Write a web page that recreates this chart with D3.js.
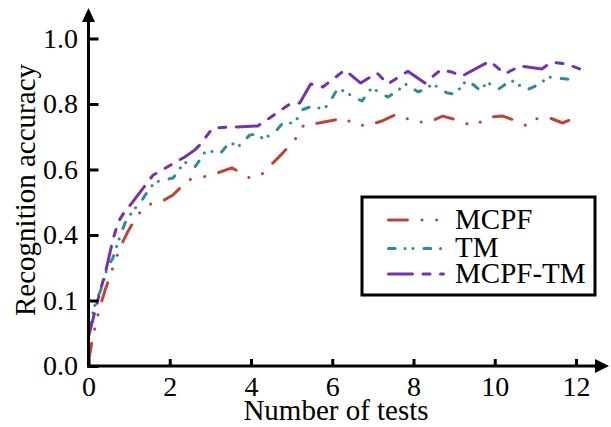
<!DOCTYPE html>
<html>
<head>
<meta charset="utf-8">
<script src="https://cdn.jsdelivr.net/npm/d3@7"></script>
<style>
  body { margin: 0; background: #fff; }
  svg { display: block; font-family: "Liberation Serif", "Times New Roman", serif; }
</style>
</head>
<body>
<div id="chart"></div>
<script>
// values
const seriesNames = ['MCPF', 'TM', 'MCPF-TM'];

const xMCPF = [0, 0.09, 0.26, 0.41, 0.53, 0.65, 0.77, 0.95, 1.19, 1.44, 1.78, 2.08, 2.45, 2.82, 3.16, 3.53, 3.97, 4.27, 4.54, 4.78, 5.13, 5.30, 5.67, 6.06, 6.31, 6.51, 6.85, 7.22, 7.59, 8.03, 8.38, 8.72, 9.07, 9.46, 9.88, 10.2, 10.54, 10.79, 10.98, 11.30, 11.67, 12.02];
const yMCPF = [0.012, 0.079, 0.171, 0.232, 0.275, 0.318, 0.36, 0.406, 0.458, 0.492, 0.501, 0.522, 0.568, 0.577, 0.589, 0.605, 0.574, 0.586, 0.62, 0.65, 0.699, 0.736, 0.742, 0.751, 0.757, 0.739, 0.733, 0.748, 0.769, 0.745, 0.745, 0.763, 0.751, 0.733, 0.76, 0.763, 0.748, 0.733, 0.754, 0.76, 0.742, 0.76];

const xTM = [0, 0.18, 0.33, 0.46, 0.60, 0.73, 0.90, 1.09, 1.32, 1.51, 1.66, 1.86, 2.08, 2.20, 2.30, 2.42, 2.62, 2.74, 2.84, 3.01, 3.23, 3.36, 3.48, 3.68, 3.97, 4.12, 4.32, 4.64, 4.78, 4.98, 5.13, 5.25, 5.45, 5.62, 5.82, 5.94, 6.14, 6.31, 6.73, 6.97, 7.37, 7.56, 7.83, 8.11, 8.30, 8.47, 8.82, 9.02, 9.31, 9.48, 9.66, 9.80, 10.10, 10.40, 10.79, 10.96, 11.35, 11.55, 11.77, 12.04];
const yTM = [0.113, 0.195, 0.241, 0.299, 0.33, 0.379, 0.437, 0.473, 0.507, 0.544, 0.562, 0.568, 0.574, 0.592, 0.614, 0.623, 0.608, 0.629, 0.65, 0.656, 0.647, 0.666, 0.684, 0.669, 0.705, 0.708, 0.693, 0.721, 0.742, 0.742, 0.754, 0.782, 0.791, 0.788, 0.788, 0.806, 0.849, 0.837, 0.809, 0.849, 0.821, 0.837, 0.861, 0.837, 0.846, 0.861, 0.834, 0.83, 0.873, 0.858, 0.84, 0.867, 0.846, 0.873, 0.843, 0.852, 0.882, 0.879, 0.876, 0.873];

const xMT = [0, 0.21, 0.43, 0.60, 0.73, 0.90, 1.07, 1.46, 1.59, 1.81, 2.15, 2.37, 2.62, 2.74, 3.06, 4.17, 4.96, 5.20, 5.47, 5.77, 6.31, 6.70, 7.10, 7.37, 7.86, 8.28, 8.67, 8.94, 9.19, 9.88, 10.25, 10.62, 11.16, 11.40, 11.77, 12.09];
const yMT = [0.089, 0.192, 0.293, 0.385, 0.44, 0.473, 0.498, 0.562, 0.583, 0.598, 0.623, 0.638, 0.66, 0.675, 0.727, 0.733, 0.80, 0.803, 0.861, 0.852, 0.904, 0.864, 0.895, 0.861, 0.90, 0.864, 0.904, 0.898, 0.885, 0.931, 0.892, 0.916, 0.907, 0.928, 0.922, 0.907];

const xTicks = [0, 2, 4, 6, 8, 10, 12];
const yTicks = [0, 0.2, 0.4, 0.6, 0.8, 1.0];
const yTickLabels = ['0.0', '0.1', '0.4', '0.6', '0.8', '1.0'];

const colors = ['#b8473b', '#2f8a9c', '#7433a8'];
const dashes = ['19 14.5 0.1 14.5 0.1 14.5', '6.7 9.8 0.1 7.8 0.1 11', '24 10.5 7 10.5 7 10.5'];

const width = 611, height = 427;
const margin = { top: 38.5, right: 35, bottom: 61, left: 88.5 };

const svg = d3.select('#chart')
  .append('svg')
  .attr('width', width)
  .attr('height', height);

const x = d3.scaleLinear()
  .domain([0, 12])
  .range([margin.left, width - margin.right]);

const y = d3.scaleLinear()
  .domain([0, 1])
  .range([height - margin.bottom, margin.top]);

// series lines
const series = [
  xMCPF.map((v, i) => [v, yMCPF[i]]),
  xTM.map((v, i) => [v, yTM[i]]),
  xMT.map((v, i) => [v, yMT[i]])
];

const line = d3.line()
  .x(d => x(d[0]))
  .y(d => y(d[1]));

series.forEach((s, i) => {
  svg.append('path')
    .datum(s)
    .attr('fill', 'none')
    .attr('stroke', colors[i])
    .attr('stroke-width', 3)
    .attr('stroke-linecap', 'round')
    .attr('stroke-linejoin', 'round')
    .attr('stroke-dasharray', dashes[i])
    .attr('d', line);
});

// axes (ticks point inward)
const xAxis = svg.append('g')
  .attr('transform', `translate(0,${y(0)})`)
  .call(d3.axisBottom(x)
    .tickValues(xTicks)
    .tickSizeInner(-7)
    .tickSizeOuter(0)
    .tickPadding(10)
    .tickFormat(d3.format('d')));

const yAxis = svg.append('g')
  .attr('transform', `translate(${x(0)},0)`)
  .call(d3.axisLeft(y)
    .tickValues(yTicks)
    .tickSizeInner(-10)
    .tickSizeOuter(0)
    .tickPadding(10.5)
    .tickFormat((d, i) => yTickLabels[i]));

[xAxis, yAxis].forEach(g => {
  g.select('.domain').remove();
  g.selectAll('.tick line').attr('stroke', '#000').attr('stroke-width', 3);
  g.selectAll('.tick text')
    .attr('fill', '#000')
    .style('font-family', '"Liberation Serif", "Times New Roman", serif')
    .style('font-size', '28px');
});

// axis lines with arrow heads
svg.append('line')
  .attr('x1', x(0) - 1.5).attr('y1', y(0))
  .attr('x2', 598).attr('y2', y(0))
  .attr('stroke', '#000').attr('stroke-width', 3);
svg.append('path')
  .attr('d', `M609,${y(0)}L595,${y(0) - 7}L595,${y(0) + 7}Z`)
  .attr('fill', '#000');

svg.append('line')
  .attr('x1', x(0)).attr('y1', y(0) + 1.5)
  .attr('x2', x(0)).attr('y2', 18)
  .attr('stroke', '#000').attr('stroke-width', 3);
svg.append('path')
  .attr('d', `M${x(0)},8L${x(0) - 6.5},22L${x(0) + 6.5},22Z`)
  .attr('fill', '#000');

// axis titles
svg.append('text')
  .attr('x', 336)
  .attr('y', 420)
  .attr('text-anchor', 'middle')
  .style('font-size', '29px')
  .text('Number of tests');

svg.append('text')
  .attr('transform', 'translate(35,190) rotate(-90)')
  .attr('text-anchor', 'middle')
  .style('font-size', '29px')
  .text('Recognition accuracy');

// legend
const legend = svg.append('g');
legend.append('rect')
  .attr('x', 362).attr('y', 197)
  .attr('width', 233).attr('height', 98)
  .attr('fill', '#fff')
  .attr('stroke', '#000')
  .attr('stroke-width', 3);

const legendY = [220, 248.5, 274];
seriesNames.forEach((name, i) => {
  legend.append('line')
    .attr('x1', 388.5).attr('x2', 443.5)
    .attr('y1', legendY[i]).attr('y2', legendY[i])
    .attr('stroke', colors[i])
    .attr('stroke-width', 3)
    .attr('stroke-linecap', 'round')
    .attr('stroke-dasharray', dashes[i]);
  legend.append('text')
    .attr('x', 455)
    .attr('y', legendY[i] + 8.5)
    .style('font-size', '29px')
    .text(name);
});
</script>
</body>
</html>
